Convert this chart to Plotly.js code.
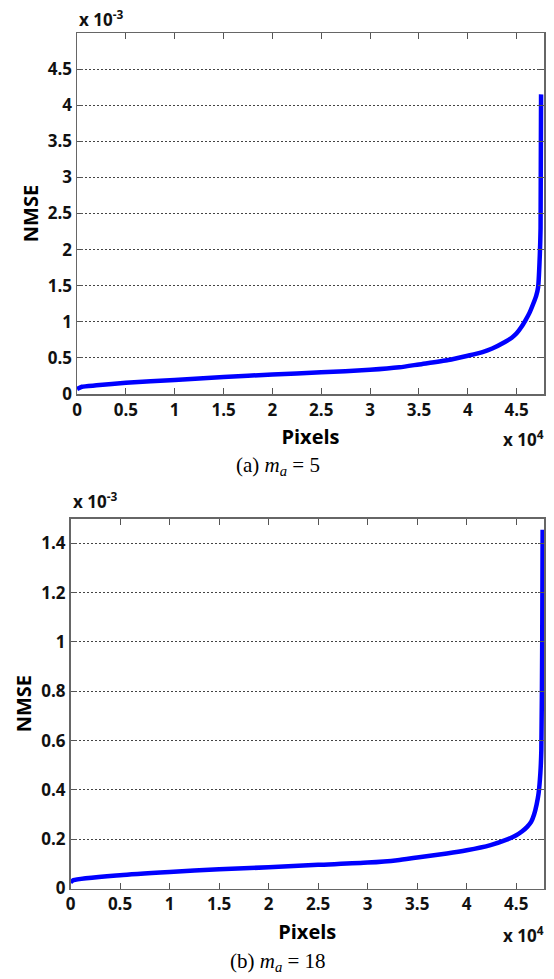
<!DOCTYPE html>
<html>
<head>
<meta charset="utf-8">
<script src="https://cdn.plot.ly/plotly-3.0.1.min.js"></script>
<style>html,body{margin:0;padding:0;background:#fff;}#chart{width:554px;height:979px;}</style>
</head>
<body>
<div id="chart"></div>
<script>
// Panel (a): m_a = 5  (x: pixel index, y: NMSE)
const pixelsA = [0, 500, 2000, 5000, 10000, 15000, 20000, 25000, 30000, 33000, 35000, 38000, 40000, 41500, 42500, 43800, 44500, 45000, 45500, 45900, 46300, 46700, 47000, 47200, 47350, 47450, 47500];
const nmseA = [0.00007, 0.00010, 0.00012, 0.000155, 0.000195, 0.000235, 0.00027, 0.00030, 0.000335, 0.00037, 0.00041, 0.00047, 0.00053, 0.00058, 0.00063, 0.00072, 0.00078, 0.00084, 0.00093, 0.00102, 0.00112, 0.00125, 0.00136, 0.00148, 0.00185, 0.0023, 0.00415];
// Panel (b): m_a = 18
const pixelsB = [0, 300, 5000, 10000, 15000, 20000, 25000, 30000, 33000, 35000, 38000, 40000, 42400, 44100, 45000, 45600, 46100, 46500, 46800, 47050, 47250, 47430, 47530, 47620, 47660];
const nmseB = [0.000025, 0.000034, 0.000054, 0.000067, 0.000078, 0.000086, 0.000096, 0.000105, 0.000115, 0.000126, 0.000142, 0.000155, 0.000176, 0.000199, 0.000216, 0.000232, 0.00025, 0.00027, 0.00030, 0.00034, 0.000385, 0.000466, 0.00056, 0.0010, 0.001455];

const xTickVals = [0, 5000, 10000, 15000, 20000, 25000, 30000, 35000, 40000, 45000];
const xTickText = ['0', '0.5', '1', '1.5', '2', '2.5', '3', '3.5', '4', '4.5'];
const yTickValsA = [0, 0.0005, 0.001, 0.0015, 0.002, 0.0025, 0.003, 0.0035, 0.004, 0.0045];
const yTickTextA = ['0', '0.5', '1', '1.5', '2', '2.5', '3', '3.5', '4', '4.5'];
const yTickValsB = [0, 0.0002, 0.0004, 0.0006, 0.0008, 0.001, 0.0012, 0.0014];
const yTickTextB = ['0', '0.2', '0.4', '0.6', '0.8', '1', '1.2', '1.4'];

function mkTickFont() { return {family: 'Open Sans', size: 17, color: '#111', weight: 'bold'}; }
function mkTitleFont() { return {family: 'Open Sans', size: 20, color: '#000', weight: 'bold'}; }

function xAxis(domain, anchor) {
  return {
    domain: domain, anchor: anchor, range: [0, 47800],
    tickmode: 'array', tickvals: xTickVals, ticktext: xTickText,
    ticks: 'inside', ticklen: 6, tickcolor: '#555', tickwidth: 1,
    showline: true, linecolor: '#666', linewidth: 1.5, mirror: 'ticks',
    showgrid: false, zeroline: false, tickfont: mkTickFont(),
    title: {text: 'Pixels', font: mkTitleFont(), standoff: 10}
  };
}
function yAxis(domain, anchor, range, vals, text) {
  return {
    domain: domain, anchor: anchor, range: range,
    tickmode: 'array', tickvals: vals, ticktext: text,
    ticks: 'inside', ticklen: 6, tickcolor: '#555', tickwidth: 1,
    showline: true, linecolor: '#666', linewidth: 1.5, mirror: 'ticks',
    showgrid: true, gridcolor: '#444', gridwidth: 1, griddash: '2px,2px',
    zeroline: false, tickfont: mkTickFont(),
    title: {text: 'NMSE', font: mkTitleFont(), standoff: 4}
  };
}

const traces = [
  {x: pixelsA, y: nmseA, type: 'scatter', mode: 'lines', xaxis: 'x', yaxis: 'y',
   line: {color: '#0000ff', width: 4.5, shape: 'spline', smoothing: 0.6}, hoverinfo: 'skip'},
  {x: pixelsB, y: nmseB, type: 'scatter', mode: 'lines', xaxis: 'x2', yaxis: 'y2',
   line: {color: '#0000ff', width: 4.5, shape: 'spline', smoothing: 0.6}, hoverinfo: 'skip'}
];

function supFont() { return {family: 'Open Sans', size: 17, color: '#111', weight: 'bold'}; }
function capFont() { return {family: 'Liberation Serif', size: 21, color: '#000', weight: 'normal'}; }

const layout = {
  width: 554, height: 979,
  margin: {l: 0, r: 0, t: 0, b: 0},
  paper_bgcolor: '#fff', plot_bgcolor: '#fff',
  font: {family: 'Open Sans'},
  showlegend: false,
  xaxis: xAxis([77/554, 544/554], 'y'),
  yaxis: yAxis([1 - 394/979, 1 - 33/979], 'x', [0, 0.005], yTickValsA, yTickTextA),
  xaxis2: xAxis([70.5/554, 544/554], 'y2'),
  yaxis2: yAxis([1 - 888.5/979, 1 - 518.7/979], 'x2', [0, 0.0015], yTickValsB, yTickTextB),
  annotations: [
    {text: 'x 10<sup>-3</sup>', xref: 'paper', yref: 'paper', x: 77/554, y: 1 - 4/979,
     xanchor: 'left', yanchor: 'top', showarrow: false, font: supFont()},
    {text: 'x 10<sup>4</sup>', xref: 'paper', yref: 'paper', x: 546/554, y: 1 - 424/979,
     xanchor: 'right', yanchor: 'top', showarrow: false, font: supFont()},
    {text: '(a) <i>m</i><sub><i>a</i></sub> = 5', xref: 'paper', yref: 'paper', x: 278/554, y: 1 - 466/979,
     xanchor: 'center', yanchor: 'middle', showarrow: false, font: capFont()},
    {text: 'x 10<sup>-3</sup>', xref: 'paper', yref: 'paper', x: 70.5/554, y: 1 - 486/979,
     xanchor: 'left', yanchor: 'top', showarrow: false, font: supFont()},
    {text: 'x 10<sup>4</sup>', xref: 'paper', yref: 'paper', x: 546/554, y: 1 - 920/979,
     xanchor: 'right', yanchor: 'top', showarrow: false, font: supFont()},
    {text: '(b) <i>m</i><sub><i>a</i></sub> = 18', xref: 'paper', yref: 'paper', x: 278/554, y: 1 - 962/979,
     xanchor: 'center', yanchor: 'middle', showarrow: false, font: capFont()}
  ]
};

Plotly.newPlot('chart', traces, layout, {staticPlot: true, displayModeBar: false});
</script>
</body>
</html>
